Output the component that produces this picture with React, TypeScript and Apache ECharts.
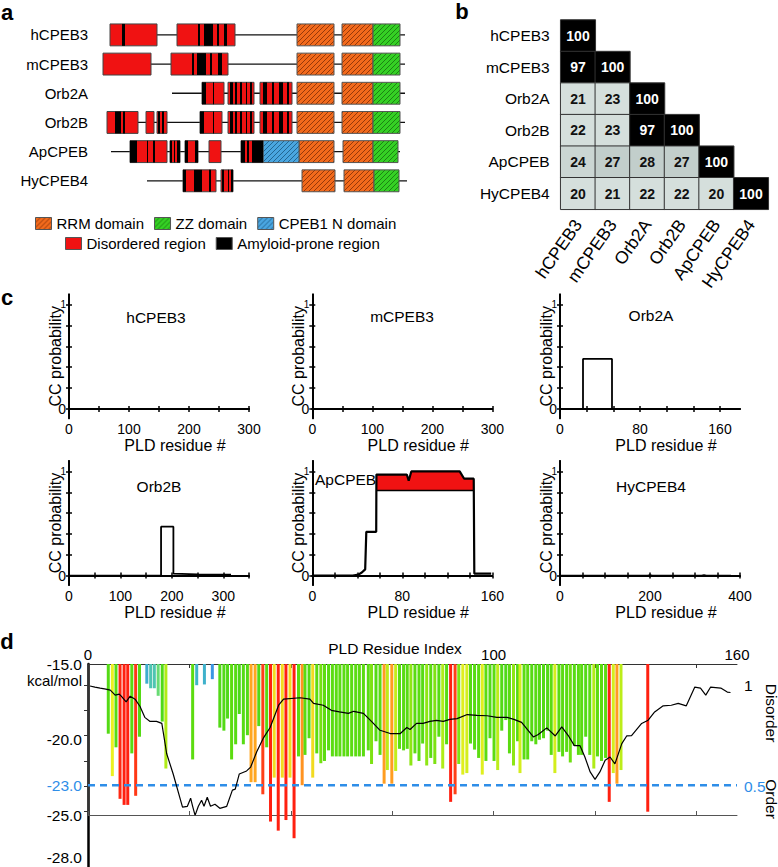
import React, { useEffect, useRef } from 'react';
import * as echarts from 'echarts';

const FONT = '"Liberation Sans", Arial, Helvetica, sans-serif';

// ---------------- Panel a : domain architecture (diagram units) ----------------
const proteins = ['hCPEB3', 'mCPEB3', 'Orb2A', 'Orb2B', 'ApCPEB', 'HyCPEB4'];
const backbone = [[0, 10, 305], [1, 3, 305], [2, 72, 305], [3, 7, 305], [4, 11, 300], [5, 47, 307]];
const rrmDomains = [
  [0, 197, 234], [0, 242, 273], [1, 197, 234], [1, 242, 273], [2, 197, 234], [2, 242, 273],
  [3, 197, 234], [3, 242, 273], [4, 199, 234], [4, 243, 273], [5, 202, 235], [5, 244, 274],
];
const zzDomains = [[0, 273, 300], [1, 273, 300], [2, 273, 300], [3, 273, 300], [4, 273, 298], [5, 274, 299]];
const cpeb1nDomains = [[4, 163, 199]];
const disorderedRegions = [
  [0, 10, 57], [0, 77, 135],
  [1, 3, 51], [1, 71, 128],
  [2, 102, 124], [2, 128, 154], [2, 160, 192],
  [3, 7, 38], [3, 46, 54], [3, 57, 67], [3, 100, 122], [3, 128, 154], [3, 160, 192],
  [4, 30, 67], [4, 70, 80], [4, 85, 98], [4, 109, 121], [4, 141, 163],
  [5, 83, 116], [5, 121, 133],
];
const amyloidRegions = [
  [0, 22, 25], [0, 98, 100], [0, 104, 113], [0, 117, 119], [0, 124, 127],
  [1, 92, 94], [1, 97, 106], [1, 110, 112], [1, 118, 122],
  [2, 102, 106], [2, 113, 114], [2, 130, 133], [2, 135, 137], [2, 140, 142], [2, 146, 147], [2, 150, 152],
  [2, 163, 167], [2, 172, 174], [2, 179, 183], [2, 187, 189],
  [3, 15, 21], [3, 23, 25], [3, 58, 60], [3, 62, 64], [3, 100, 104], [3, 113, 114],
  [3, 130, 133], [3, 135, 137], [3, 140, 142], [3, 146, 147], [3, 150, 152],
  [3, 163, 167], [3, 172, 174], [3, 179, 183], [3, 187, 189],
  [4, 30, 37], [4, 47, 48], [4, 53, 55], [4, 70, 72], [4, 74, 75], [4, 77, 80], [4, 85, 88], [4, 95, 98],
  [4, 141, 145], [4, 147, 149], [4, 152, 163],
  [5, 83, 86], [5, 94, 102], [5, 109, 111], [5, 122, 124], [5, 128, 129], [5, 131, 133],
];
const legendRow1 = ['RRM domain', 'ZZ domain', 'CPEB1 N domain'];
const legendRow2 = ['Disordered region', 'Amyloid-prone region'];

// ---------------- Panel b : identity matrix ----------------
const identityRows = [
  [100],
  [97, 100],
  [21, 23, 100],
  [22, 23, 97, 100],
  [24, 27, 28, 27, 100],
  [20, 21, 22, 22, 20, 100],
];

// ---------------- Panel c : coiled-coil probability ----------------
const ccNames = ['hCPEB3', 'mCPEB3', 'Orb2A', 'Orb2B', 'ApCPEB', 'HyCPEB4'];
const ccXMax = [300, 300, 180, 350, 160, 400];
const ccXTicks = [
  [0, 50, 100, 150, 200, 250, 300],
  [0, 50, 100, 150, 200, 250, 300],
  [0, 26.67, 53.33, 80, 106.67, 133.33, 160],
  [0, 50, 100, 150, 200, 250, 300, 350],
  [0, 20, 40, 60, 80, 100, 120, 140, 160],
  [0, 50, 100, 150, 200, 250, 300, 350, 400],
];
const ccXLabels = [[0, 100, 200, 300], [0, 100, 200, 300], [0, 80, 160], [0, 100, 200, 300], [0, 80, 160], [0, 200, 400]];
const ccYTicks = [0, 0.2, 0.4, 0.6, 0.8, 1];
const ccYLabels = [0, 1];
const ccHCPEB3 = [[0, 0], [280, 0]];
const ccMCPEB3 = [[0, 0], [283, 0]];
const ccOrb2A = [[0, 0], [23, 0], [23, 0.48], [52, 0.48], [52, 0], [161, 0]];
const ccOrb2B = [[0, 0], [179, 0], [179, 0.47], [203, 0.47], [203, 0.02], [250, 0.012], [315, 0.01]];
const ccApCPEB = [
  [0, 0], [36, 0], [41, 0.01], [44, 0.03], [47, 0.06], [48, 0.42], [56.8, 0.42], [57, 0.97], [84, 0.97],
  [85.7, 0.91], [88, 1.0], [131, 1.0], [135, 0.93], [143.5, 0.93], [144, 0.02], [159, 0.02],
];
const ccHyCPEB4 = [[0, 0], [195, 0], [200, 0.006], [205, 0], [315, 0], [320, 0.006], [325, 0], [380, 0]];
const ccCurves = [ccHCPEB3, ccMCPEB3, ccOrb2A, ccOrb2B, ccApCPEB, ccHyCPEB4];
const ccApFill = [[57, 0.97], [84, 0.97], [85.7, 0.91], [88, 1.0], [131, 1.0], [135, 0.93], [143.5, 0.93]];
const ccApThreshold = 0.817;

// ---------------- Panel d : energies (bars) and disorder (line) ----------------
const dBars: number[][] = [
  [5.0, -19.6], [6.0, -22.4], [6.9, -20.5], [7.9, -23.9], [8.9, -24.3], [9.8, -24.3], [10.8, -20.9], [11.75, -23.7], [12.7, -19.8],
  [14.5, -16.3], [15.45, -16.6], [16.35, -16.6], [17.3, -17.1], [18.3, -18.8], [19.2, -21.9],
  [25.8, -21.3], [26.8, -16.4], [28.7, -16.35], [30.65, -16.0],
  [32.5, -19.2], [33.5, -19.4], [34.4, -18.6], [35.4, -21.3], [36.4, -20.3], [37.3, -18.3], [38.3, -20.3], [39.3, -19.7],
  [40.2, -22.8], [41.2, -22.8], [42.1, -19.1], [43.1, -23.6], [44.05, -20.5], [45.0, -25.4], [45.9, -22.5], [46.9, -26.0],
  [47.9, -22.5], [48.8, -25.3], [49.8, -22.5], [50.8, -26.5], [51.9, -21.1], [52.8, -23.0],
  [53.5, -21.0], [54.5, -19.9], [55.4, -22.5], [56.4, -20.9], [57.4, -21.55], [58.3, -21.4], [59.3, -20.7],
  [60.25, -21.1], [61.2, -21.1], [62.1, -21.1], [63.1, -21.1], [64.0, -21.1], [65.0, -21.1], [66.0, -21.1], [66.9, -21.1], [67.9, -21.1],
  [69.1, -20.7], [69.9, -21.6], [71.0, -20.1], [72.0, -21.0], [73.0, -22.9], [73.8, -22.0], [74.9, -22.9], [75.85, -22.06],
  [76.8, -20.6], [77.8, -20.7], [78.7, -20.6], [79.6, -21.7], [80.6, -20.9], [81.6, -21.4], [82.5, -20.25], [83.5, -21.7],
  [84.5, -21.2], [85.5, -21.6], [86.5, -19.8], [87.45, -21.9], [88.4, -20.3], [89.4, -24.1], [90.5, -23.6], [91.4, -21.6],
  [92.4, -22.3], [93.4, -22.2], [94.3, -20.25], [95.3, -20.65], [96.3, -21.2], [97.2, -22.3], [98.1, -21.4], [99.1, -19.9],
  [100.1, -21.4], [101.0, -22.0], [102.0, -19.4], [103.0, -18.7], [103.9, -20.9], [104.9, -21.7], [105.9, -20.1],
  [106.5, -22.2], [107.5, -21.3], [108.4, -21.3], [109.4, -20.1], [110.4, -20.3], [111.3, -20.0], [112.3, -19.9], [113.3, -19.4],
  [114.2, -21.0], [115.1, -22.2], [116.1, -20.8], [117.0, -21.1], [118.0, -20.8], [118.9, -21.5], [119.9, -20.4], [120.9, -21.0],
  [121.7, -21.0], [122.7, -19.8], [123.7, -21.0], [124.7, -21.9], [125.6, -21.1], [126.6, -21.4], [127.6, -21.2], [128.5, -24.1],
  [129.5, -22.2], [130.4, -22.9], [131.4, -22.0],
  [138.0, -24.75],
];
const dDisorder: number[][] = [
  [0.5, 0.995], [1.7, 0.99], [3, 0.985], [4.4, 0.98], [5.5, 0.975], [6.7, 0.95], [7.7, 0.955], [8.2, 0.945], [9.4, 0.917],
  [10.4, 0.945], [11.6, 0.93], [12.8, 0.895], [14, 0.84], [15.3, 0.82], [16.9, 0.82], [18.2, 0.81], [19.4, 0.66], [21, 0.56],
  [23.3, 0.396], [24.5, 0.40], [25.3, 0.44], [25.8, 0.40], [26.4, 0.355], [27.2, 0.40], [28, 0.43], [28.6, 0.40], [29.4, 0.445],
  [30.2, 0.40], [31.3, 0.41], [32.5, 0.39], [34.2, 0.40], [35.6, 0.48], [36.3, 0.485], [37.3, 0.56], [39.1, 0.575], [40.1, 0.594],
  [41.6, 0.67], [43.3, 0.74], [44.9, 0.79], [47, 0.90], [48.2, 0.93], [52.3, 0.937], [54.7, 0.93], [55.6, 0.909], [58, 0.90],
  [58.8, 0.89], [60, 0.875], [62, 0.867], [64.2, 0.86], [65.5, 0.87], [67.9, 0.86], [70, 0.818], [72, 0.776], [74.5, 0.76],
  [77, 0.76], [78.6, 0.79], [79.4, 0.78], [81, 0.81], [82.6, 0.81], [84.3, 0.82], [85.9, 0.825], [87.6, 0.82], [89.2, 0.83],
  [91, 0.834], [93.5, 0.854], [95.9, 0.85], [98.4, 0.848], [100.8, 0.84], [103.3, 0.84], [105, 0.83], [106.9, 0.815],
  [108.5, 0.776], [109.8, 0.743], [111, 0.755], [113.1, 0.788], [115.2, 0.748], [116.8, 0.793], [118.4, 0.75], [119.9, 0.70],
  [121.3, 0.70], [122.5, 0.644], [123.8, 0.57], [125, 0.533], [126.2, 0.57], [127.5, 0.628], [128.7, 0.644], [129.9, 0.61],
  [131.6, 0.71], [132.8, 0.748], [134, 0.75], [136.5, 0.81], [138.1, 0.826], [139.7, 0.867], [141.8, 0.897], [143.8, 0.90],
  [145.5, 0.909], [147.5, 0.897], [149.6, 0.99], [151, 0.985], [152.3, 0.95], [153.5, 0.99], [156, 0.985], [157.6, 0.965], [158.4, 0.963],
];
const dThreshold = -23;
const dLeftLabels = [-15, -20, -23, -25, -28];
const dTopTicks = [0, 25, 50, 75, 100, 125, 150];
const dTopLabels = [0, 100, 160];
const dRightTicks = [0.375, 0.5, 0.625, 0.75, 0.875, 1];
const dRightLabels = [0.5, 1];

// ---------------- helpers ----------------
function hatch(bg: string, fg: string) {
  const s = 5;
  const svg = `<svg xmlns='http://www.w3.org/2000/svg' width='${s}' height='${s}'><rect width='${s}' height='${s}' fill='${bg}'/><path d='M0 ${s} L${s} 0 M-1 1 L1 -1 M${s - 1} ${s + 1} L${s + 1} ${s - 1}' stroke='${fg}' stroke-width='0.9'/></svg>`;
  return {
    image: 'data:image/svg+xml;charset=utf-8,' + encodeURIComponent(svg),
    repeat: 'repeat',
    imageWidth: s,
    imageHeight: s,
  };
}
const RRM_FILL = hatch('#f26a1c', '#8c3208');
const ZZ_FILL = hatch('#35d024', '#187a10');
const CPEB_FILL = hatch('#4aa6e0', '#1d5f8a');
const RED = '#f01212';
const BLUE = '#2f8ee8';

const energyStops: [number, number[]][] = [
  [-15.9, [58, 142, 232]], [-16.4, [63, 181, 200]], [-16.8, [95, 211, 154]], [-17.3, [110, 224, 90]],
  [-18.0, [76, 216, 26]], [-21.4, [92, 220, 16]], [-21.9, [176, 236, 24]], [-22.4, [236, 240, 32]],
  [-22.7, [255, 176, 32]], [-23.2, [255, 128, 32]], [-23.6, [255, 64, 24]], [-24.0, [255, 32, 16]],
];
function energyColor(v: number) {
  if (v >= energyStops[0][0]) return `rgb(${energyStops[0][1].join(',')})`;
  for (let i = 1; i < energyStops.length; i++) {
    const [a, ca] = energyStops[i - 1];
    const [b, cb] = energyStops[i];
    if (v >= b) {
      const t = (a - v) / (a - b);
      const c = ca.map((x, k) => Math.round(x + (cb[k] - x) * t));
      return `rgb(${c.join(',')})`;
    }
  }
  return `rgb(${energyStops[energyStops.length - 1][1].join(',')})`;
}

function bandRender(fill: any, stroke: string | null, hFrac: number) {
  return (params: any, api: any) => {
    const row = api.value(0);
    const s = api.value(1);
    const e = api.value(2);
    const p0 = api.coord([s, row]);
    const p1 = api.coord([e, row]);
    const h = api.size([0, 1])[1] * hFrac;
    return {
      type: 'rect',
      shape: { x: p0[0], y: p0[1] - h / 2, width: p1[0] - p0[0], height: h },
      style: { fill, stroke: stroke || 'none', lineWidth: stroke ? 1 : 0 },
    };
  };
}

function buildOption() {
  const grids: any[] = [];
  const xAxes: any[] = [];
  const yAxes: any[] = [];
  const series: any[] = [];
  const noSplit = { show: false };

  // ---- grid 0 : panel a
  grids.push({ left: 100, top: 20.3, width: 310, height: 175.1 });
  xAxes.push({ gridIndex: 0, type: 'value', min: 0, max: 310, show: false, splitLine: noSplit });
  yAxes.push({
    gridIndex: 0, type: 'category', data: proteins, inverse: true,
    axisLine: { show: false }, axisTick: { show: false }, splitLine: noSplit,
    axisLabel: { fontSize: 15, color: '#000', margin: 12, fontFamily: FONT },
  });
  const aCommon = { type: 'custom', xAxisIndex: 0, yAxisIndex: 0, encode: { x: [1, 2], y: 0 }, silent: true };
  series.push({
    ...aCommon, name: 'backbone', data: backbone,
    renderItem: (params: any, api: any) => {
      const row = api.value(0);
      const p0 = api.coord([api.value(1), row]);
      const p1 = api.coord([api.value(2), row]);
      return { type: 'line', shape: { x1: p0[0], y1: p0[1], x2: p1[0], y2: p1[1] }, style: { stroke: '#111', lineWidth: 1.3 } };
    },
  });
  series.push({ ...aCommon, name: 'RRM domain', data: rrmDomains, itemStyle: { color: RRM_FILL }, renderItem: bandRender(RRM_FILL, '#555', 0.75) });
  series.push({ ...aCommon, name: 'ZZ domain', data: zzDomains, itemStyle: { color: ZZ_FILL }, renderItem: bandRender(ZZ_FILL, '#555', 0.75) });
  series.push({ ...aCommon, name: 'CPEB1 N domain', data: cpeb1nDomains, itemStyle: { color: CPEB_FILL }, renderItem: bandRender(CPEB_FILL, '#555', 0.75) });
  series.push({ ...aCommon, name: 'Disordered region', data: disorderedRegions, itemStyle: { color: RED }, renderItem: bandRender(RED, '#444', 0.75) });
  series.push({ ...aCommon, name: 'Amyloid-prone region', data: amyloidRegions, itemStyle: { color: '#000' }, renderItem: bandRender('#000', null, 0.75) });

  // ---- grid 1 : panel b heatmap
  grids.push({ left: 560.7, top: 20, width: 207.6, height: 189.3 });
  xAxes.push({
    gridIndex: 1, type: 'category', data: proteins, position: 'bottom',
    axisLine: { show: false }, axisTick: { show: false }, splitLine: noSplit,
    axisLabel: { rotate: 55, fontSize: 17.5, color: '#000', margin: 12, interval: 0, fontFamily: FONT },
  });
  yAxes.push({
    gridIndex: 1, type: 'category', data: proteins, inverse: true,
    axisLine: { show: false }, axisTick: { show: false }, splitLine: noSplit,
    axisLabel: { fontSize: 15.5, color: '#000', margin: 11, interval: 0, fontFamily: FONT },
  });
  const heatData: any[] = [];
  identityRows.forEach((row, r) => row.forEach((v, c) => {
    heatData.push({ value: [c, r, v], label: { color: v >= 50 ? '#fff' : '#111' } });
  }));
  const heatIndex = series.length;
  series.push({
    type: 'heatmap', xAxisIndex: 1, yAxisIndex: 1, data: heatData, silent: true,
    itemStyle: { borderColor: '#333', borderWidth: 1 },
    label: { show: true, fontSize: 14, fontWeight: 'bold', fontFamily: FONT },
    emphasis: { disabled: true },
  });

  // ---- grids 2..7 : panel c
  const cLefts = [69, 312.3, 560, 69, 312.3, 560];
  const cTops = [294.3, 294.3, 294.3, 461, 461, 461];
  const frame = { show: true, lineStyle: { color: '#000', width: 1.8 } };
  const cBottomX: any[] = [];
  const cTopX: any[] = [];
  const cLeftY: any[] = [];
  const cRightY: any[] = [];
  ccNames.forEach((name, i) => {
    grids.push({ left: cLefts[i], top: cTops[i], width: 180, height: 124 });
    const g = 2 + i;
    cBottomX.push({
      gridIndex: g, type: 'value', position: 'bottom', min: 0, max: ccXMax[i], splitLine: noSplit,
      axisLine: frame,
      axisTick: { inside: true, length: 3, customValues: ccXTicks[i], lineStyle: { color: '#000', width: 1.5 } },
      axisLabel: { customValues: ccXLabels[i], fontSize: 14, color: '#000', margin: 4, fontFamily: FONT },
      name: 'PLD residue #', nameLocation: 'middle', nameGap: 19, nameMoveOverlap: false,
      nameTextStyle: { fontSize: 16, color: '#000', fontFamily: FONT, padding: [0, 0, 0, 32] },
    });
    cTopX.push({
      gridIndex: g, type: 'value', position: 'top', min: 0, max: ccXMax[i], splitLine: noSplit,
      axisLine: frame,
      axisTick: { inside: true, length: 3, customValues: ccXTicks[i], lineStyle: { color: '#000', width: 1.5 } },
      axisLabel: { show: false },
    });
    cLeftY.push({
      gridIndex: g, type: 'value', position: 'left', min: -0.09, max: 1.1, splitLine: noSplit,
      axisLine: frame,
      axisTick: { inside: true, length: 3, customValues: ccYTicks, lineStyle: { color: '#000', width: 1.5 } },
      axisLabel: {
        customValues: ccYLabels, fontSize: 14, color: '#000', margin: 3, fontFamily: FONT,
        formatter: (v: number) => (v === 1 ? '{s|1}' : String(v)),
        rich: { s: { fontSize: 10, color: '#000', fontFamily: FONT } },
      },
      name: 'CC probability', nameLocation: 'middle', nameGap: 6, nameRotate: 90, nameMoveOverlap: false,
      nameTextStyle: { fontSize: 16, color: '#000', fontFamily: FONT },
    });
    cRightY.push({
      gridIndex: g, type: 'value', position: 'right', min: -0.09, max: 1.1, splitLine: noSplit,
      axisLine: frame,
      axisTick: { inside: true, length: 3, customValues: ccYTicks, lineStyle: { color: '#000', width: 1.5 } },
      axisLabel: { show: false },
    });
  });
  xAxes.push(...cBottomX, ...cTopX); // x indices 2..7 bottom, 8..13 top
  yAxes.push(...cLeftY, ...cRightY); // y indices 2..7 left, 8..13 right

  // ApCPEB red area above threshold
  series.push({
    type: 'line', xAxisIndex: 2 + 4, yAxisIndex: 2 + 4, data: ccApFill, silent: true,
    showSymbol: false, symbol: 'none', lineStyle: { width: 0 },
    areaStyle: { color: RED, opacity: 1, origin: ccApThreshold },
  });
  series.push({
    type: 'line', xAxisIndex: 2 + 4, yAxisIndex: 2 + 4, silent: true, symbol: 'none',
    data: [[ccApFill[0][0], ccApThreshold], [ccApFill[ccApFill.length - 1][0], ccApThreshold]],
    lineStyle: { color: '#000', width: 1.6 },
  });
  ccCurves.forEach((curve, i) => {
    series.push({
      type: 'line', xAxisIndex: 2 + i, yAxisIndex: 2 + i, data: curve, silent: true, symbol: 'none',
      lineStyle: { color: '#000', width: i === 4 ? 2.2 : 1.8 },
    });
  });

  // ---- grid 8 : panel d bars (left energy axis), grid 9 : box + disorder
  grids.push({ left: 88, top: 664, width: 649, height: 203 });
  grids.push({ left: 88, top: 664, width: 649, height: 151 });
  xAxes.push({ gridIndex: 8, type: 'value', min: 0, max: 160, show: false, splitLine: noSplit }); // 14
  xAxes.push({ // 15 top
    gridIndex: 9, type: 'value', position: 'top', min: 0, max: 160, splitLine: noSplit,
    axisLine: { show: true, lineStyle: { color: '#333', width: 1 } },
    axisTick: { inside: true, length: 4, customValues: dTopTicks, lineStyle: { color: '#333' } },
    axisLabel: { customValues: dTopLabels, fontSize: 15, color: '#000', margin: 2, fontFamily: FONT },
    name: 'PLD Residue Index', nameLocation: 'middle', nameGap: 8, nameMoveOverlap: false,
    nameTextStyle: { fontSize: 15.5, color: '#000', fontFamily: FONT, padding: [0, 35, 0, 0] },
  });
  xAxes.push({ // 16 bottom (-25 line)
    gridIndex: 9, type: 'value', position: 'bottom', min: 0, max: 160, splitLine: noSplit,
    axisLine: { show: true, lineStyle: { color: '#555', width: 1 } },
    axisTick: { inside: true, length: 4, customValues: dTopTicks, lineStyle: { color: '#555' } },
    axisLabel: { show: false },
  });
  yAxes.push({ // 14 left energy axis
    gridIndex: 8, type: 'value', position: 'left', min: -28.4, max: -15, splitLine: noSplit,
    axisLine: { show: true, lineStyle: { color: '#000', width: 2.5 } },
    axisTick: { show: false },
    axisLabel: {
      customValues: dLeftLabels, fontSize: 15.5, color: '#000', margin: 6, fontFamily: FONT,
      formatter: (v: number) => (v === dThreshold ? `{b|${v.toFixed(1)}}` : v === -28 ? `{c|${v.toFixed(1)}}` : v.toFixed(1)),
      rich: {
        b: { color: BLUE, fontSize: 15.5, fontFamily: FONT },
        c: { color: '#000', fontSize: 15.5, fontFamily: FONT, padding: [0, 0, 6, 0] },
      },
    },
  });
  yAxes.push({ // 15 right disorder axis
    gridIndex: 9, type: 'value', position: 'right', min: 0.357, max: 1.104, splitLine: noSplit,
    axisLine: { show: true, lineStyle: { color: '#333', width: 1.2 } },
    axisTick: { inside: true, length: 4, customValues: dRightTicks, lineStyle: { color: '#333' } },
    axisLabel: {
      customValues: dRightLabels, fontSize: 15.5, color: '#000', margin: 7, fontFamily: FONT,
      formatter: (v: number) => (v === 0.5 ? '{b|0.5}' : String(v)),
      rich: { b: { color: BLUE, fontSize: 15.5, fontFamily: FONT } },
    },
  });
  series.push({
    type: 'custom', xAxisIndex: 14, yAxisIndex: 14, data: dBars, encode: { x: 0, y: 1 }, silent: true,
    renderItem: (params: any, api: any) => {
      const x = api.value(0);
      const v = api.value(1);
      const top = api.coord([x, -15]);
      const bot = api.coord([x, v]);
      return { type: 'rect', shape: { x: top[0] - 1.5, y: top[1], width: 3, height: bot[1] - top[1] }, style: { fill: energyColor(v) } };
    },
  });
  series.push({
    type: 'line', xAxisIndex: 14, yAxisIndex: 14, silent: true, symbol: 'none',
    data: [[0, dThreshold], [160, dThreshold]],
    lineStyle: { color: BLUE, width: 2.6, type: [7, 5] },
  });
  series.push({
    type: 'line', xAxisIndex: 15, yAxisIndex: 15, data: dDisorder, silent: true, symbol: 'none',
    lineStyle: { color: '#000', width: 1.2 },
  });

  const txt = (text: string, x: number, y: number, size: number, extra: any = {}) => ({
    type: 'text', x, y, silent: true,
    style: { text, fontSize: size, fontFamily: FONT, fill: '#000', align: 'center', verticalAlign: 'middle', ...extra },
  });

  const legendText = { fontSize: 15, color: '#000', fontFamily: FONT };
  const makeLegend = (names: string[], left: number, top: number) => ({
    data: names.map((n) => ({ name: n, textStyle: { ...legendText } })),
    left, top, icon: 'rect', orient: 'horizontal',
    itemWidth: 16, itemHeight: 12, itemGap: 10, selectedMode: false, padding: 0,
    itemStyle: { borderColor: '#555', borderWidth: 1 },
    textStyle: { ...legendText },
  });

  return {
    animation: false,
    backgroundColor: '#fff',
    textStyle: { fontFamily: FONT },
    grid: grids.map((g) => ({ ...g, containLabel: false, outerBoundsMode: 'none' })),
    xAxis: xAxes,
    yAxis: yAxes,
    visualMap: [{
      type: 'piecewise', show: false, seriesIndex: heatIndex, dimension: 2,
      pieces: [
        { lt: 23.5, color: '#d5dfdc' },
        { gte: 23.5, lt: 26, color: '#cbd6d3' },
        { gte: 26, lt: 50, color: '#c2cecb' },
        { gte: 50, color: '#000' },
      ],
    }],
    legend: [makeLegend(legendRow1, 35, 216), makeLegend(legendRow2, 65, 236)],
    graphic: [
      txt('a', 7, 12, 22, { fontWeight: 'bold' }),
      txt('b', 462, 11, 22, { fontWeight: 'bold' }),
      txt('c', 7, 297, 22, { fontWeight: 'bold' }),
      txt('d', 7, 641, 22, { fontWeight: 'bold' }),
      txt('hCPEB3', 156, 317, 15.5),
      txt('mCPEB3', 402, 316, 15.5),
      txt('Orb2A', 651, 315, 15.5),
      txt('Orb2B', 159, 486, 15.5),
      txt('ApCPEB', 315, 479, 15.5, { align: 'left' }),
      txt('HyCPEB4', 651, 486, 15.5),
      txt('kcal/mol', 82, 680, 15, { align: 'right' }),
      { ...txt('Disorder', 771, 713, 15.5), rotation: -Math.PI / 2 },
      { ...txt('Order', 771, 799, 15.5), rotation: -Math.PI / 2 },
    ],
    series,
  };
}

export default function App() {
  const ref = useRef<HTMLDivElement>(null);
  useEffect(() => {
    if (!ref.current) return;
    const chart = echarts.init(ref.current, null, { renderer: 'svg' });
    chart.setOption(buildOption() as any);
    return () => chart.dispose();
  }, []);
  return (
    <div
      ref={ref}
      style={{ position: 'fixed', left: 0, top: 0, width: 778, height: 867, background: '#fff' }}
    />
  );
}
